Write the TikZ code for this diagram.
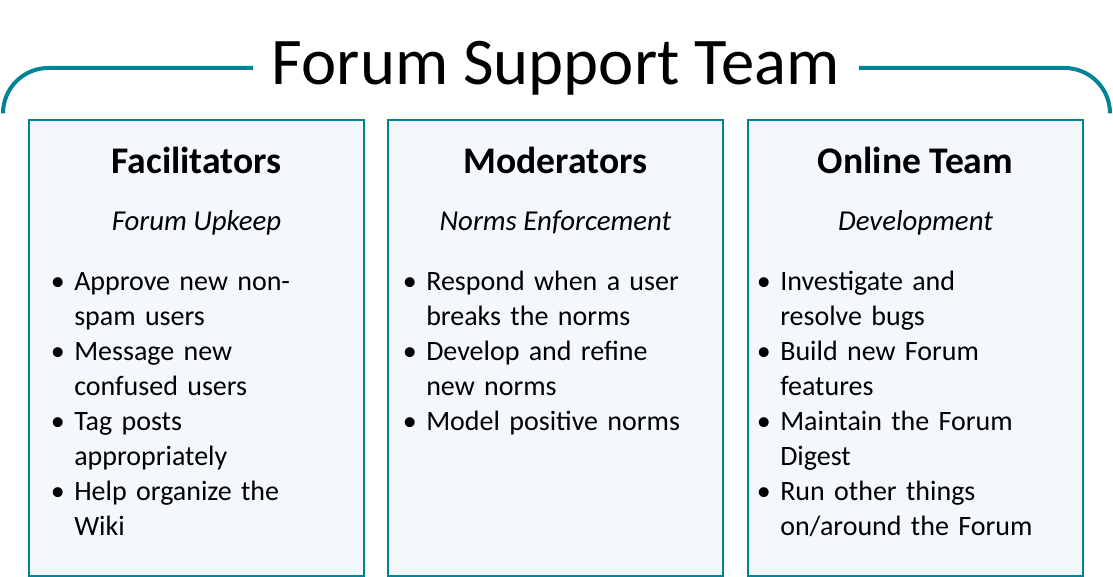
\documentclass[tikz,border=0pt]{standalone}
\usepackage{fontspec}
\setmainfont{Carlito}
\usepackage{enumitem}
\usetikzlibrary{positioning}
\definecolor{tealline}{RGB}{0,130,153}
\definecolor{palefill}{RGB}{243,248,252}
\newcommand{\duties}[1]{%
  \begin{itemize}[label=\textbullet, leftmargin=15pt, labelsep=7pt, nosep]#1\end{itemize}}
\tikzset{
  brace/.style={
      draw=tealline,
      line width=3pt,
      rounded corners=34pt
    },
  role/.style={
      rectangle,
      draw=tealline,
      line width=1.5pt,
      fill=palefill,
      minimum width=251.25pt,
      minimum height=342pt,
      inner sep=0pt
    },
  head/.style={
      anchor=base,
      font=\fontsize{28.2}{34}\selectfont\bfseries
    },
  sub/.style={
      anchor=base,
      font=\fontsize{21.6}{26.25}\selectfont\itshape
    },
  list/.style={
      anchor=north west,
      text width=230pt,
      align=left,
      inner sep=0pt,
      font=\fontsize{21}{26.25}\selectfont
    }
}

\begin{document}
\begin{tikzpicture}[x=0.75pt, y=-0.75pt]
  \useasboundingbox (0,0) rectangle (1113,577);
  % title and bracket
  \node[anchor=west, inner xsep=14pt, font=\fontsize{50}{60}\selectfont] (title) at (253,68) {Forum Support Team};
  \coordinate (lend) at (3,113);
  \coordinate (rend) at (1110,113);
  \draw[brace] (lend) |- (title.west);
  \draw[brace] (rend) |- (title.east);
  % facilitators
  \node[role] (fac) at (196.5,348) {};
  \node[head] (fach) at (fac.north |- 0,174) {Facilitators};
  \node[sub] (facs) at (fac.north |- 0,231) {Forum Upkeep};
  \node[list] (facl) at (54,255) {\duties{
    \item Approve new non-\newline spam users
    \item Message new\newline confused users
    \item Tag posts\newline appropriately
    \item Help organize the\newline Wiki}};
  % moderators
  \node[role] (mod) at (555.5,348) {};
  \node[head] (modh) at (mod.north |- 0,174) {Moderators};
  \node[sub] (mods) at (mod.north |- 0,231) {Norms Enforcement};
  \node[list] (modl) at (406,255) {\duties{
    \item Respond when a user\newline breaks the norms
    \item Develop and refine\newline new norms
    \item Model positive norms}};
  % online team
  \node[role] (onl) at (915.5,348) {};
  \node[head] (onlh) at (onl.north |- 0,174) {Online Team};
  \node[sub] (onls) at (onl.north |- 0,231) {Development};
  \node[list] (onll) at (760,255) {\duties{
    \item Investigate and\newline resolve bugs
    \item Build new Forum\newline features
    \item Maintain the Forum\newline Digest
    \item Run other things\newline on/around the Forum}};
\end{tikzpicture}
\end{document}
